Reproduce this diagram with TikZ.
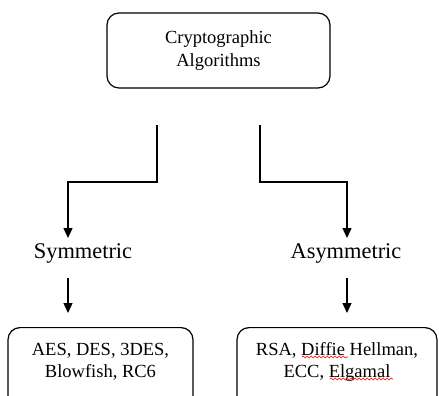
\documentclass[tikz,border=0pt]{standalone}
\usepackage{fontspec}
\setmainfont{Liberation Serif}
\usetikzlibrary{arrows.meta,decorations.pathmorphing}
\begin{document}
\begin{tikzpicture}[x=1pt,y=-1pt,
  box/.style={draw, line width=1.2pt, rounded corners=12pt, align=center, inner sep=0pt},
  conn/.style={line width=1.3pt, -{Triangle[length=10pt,width=9pt]}},
  lbl/.style={inner sep=0pt, font=\fontsize{22.4}{26}\selectfont},
  squig/.style={red, line width=0.6pt, decorate, decoration={snake, amplitude=1pt, segment length=4pt}}]
\clip (0,0) rectangle (439,396);
\useasboundingbox (0,0) rectangle (439,396);
% top box
\node[box, minimum width=223pt, minimum height=75pt, font=\fontsize{18.5}{23}\selectfont] (top) at (218.5,50.5) {Cryptographic\\Algorithms};
% labels
\node[lbl] (sym) at (83,253) {Symmetric};
\node[lbl] (asym) at (346,253) {Asymmetric};
% bottom boxes
\node[box, anchor=north, minimum width=185pt, minimum height=95pt, font=\fontsize{18.5}{22}\selectfont] (symbox) at (100.5,327)
  {\rule{0pt}{28pt}AES, DES, 3DES,\\Blowfish, RC6\\[40pt]};
\node[box, anchor=north, minimum width=200pt, minimum height=95pt, font=\fontsize{18.5}{22}\selectfont] (asymbox) at (337,327)
  {\rule{0pt}{28pt}RSA, Diffie Hellman,\\ECC, Elgamal\\[40pt]};
% connector coordinates
\coordinate (l0) at (157,125);
\coordinate (l1) at (68,182);
\coordinate (r0) at (260,125);
\coordinate (r1) at (347,182);
\coordinate (lt) at (68,238);
\coordinate (rt) at (347,238);
\coordinate (ls) at (68,278);
\coordinate (le) at (68,313);
\coordinate (rs) at (347,278);
\coordinate (re) at (347,313);
\draw[conn] (l0) |- (l1) -- (lt);
\draw[conn] (r0) |- (r1) -- (rt);
\draw[conn] (ls) -- (le);
\draw[conn] (rs) -- (re);
% spell-check squiggles
\coordinate (q1a) at (302,357);
\coordinate (q1b) at (348,357);
\coordinate (q2a) at (330,379);
\coordinate (q2b) at (393,379);
\draw[squig] (q1a) -- (q1b);
\draw[squig] (q2a) -- (q2b);
\end{tikzpicture}
\end{document}
